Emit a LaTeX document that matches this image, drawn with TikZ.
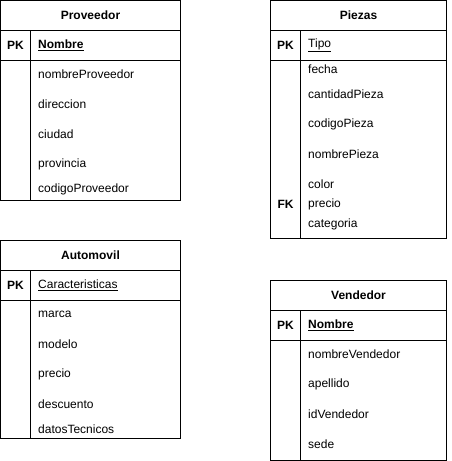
\documentclass[tikz,border=0pt]{standalone}
\usepackage{fontspec}
\setmainfont{Liberation Sans}
\begin{document}
\begin{tikzpicture}[x=1pt,y=-1pt,
  frame/.style={draw=black,line width=1pt},
  ttl/.style={font=\fontsize{12}{14}\selectfont\bfseries,inner sep=0pt},
  key/.style={font=\fontsize{12}{14}\selectfont\bfseries,inner sep=0pt},
  pk/.style={font=\fontsize{12}{14}\selectfont\bfseries,inner sep=0pt,anchor=west},
  pkr/.style={font=\fontsize{12}{14}\selectfont,inner sep=0pt,anchor=west},
  attr/.style={font=\fontsize{12}{14}\selectfont,inner sep=0pt,anchor=west}]
\useasboundingbox (0,0) rectangle (451,461);
% ---------- Proveedor ----------
\draw[frame] (0.5,0.5) rectangle (180.5,200.5);
\draw[frame] (0.5,30.5) -- (180.5,30.5);
\draw[frame] (0.5,60.5) -- (180.5,60.5);
\draw[frame] (30.5,30.5) -- (30.5,200.5);
\node[ttl] (p-t) at (90.5,15.5) {Proveedor};
\node[key] (p-pk) at (15.5,45.5) {PK};
\node[pk] (p-k) at (38,45.5) {\underline{Nombre}};
\node[attr] (p-1) at (38,74.5) {nombreProveedor};
\node[attr] (p-2) at (38,104.5) {direccion};
\node[attr] (p-3) at (38,134.5) {ciudad};
\node[attr] (p-4) at (38,164.5) {provincia};
\node[attr] (p-5) at (38,189.5) {codigoProveedor};
% ---------- Piezas ----------
\draw[frame] (270.5,0.5) rectangle (446.5,238.5);
\draw[frame] (270.5,30.5) -- (446.5,30.5);
\draw[frame] (270.5,60.5) -- (446.5,60.5);
\draw[frame] (300.5,30.5) -- (300.5,238.5);
\node[ttl] (z-t) at (358.5,15.5) {Piezas};
\node[key] (z-pk) at (285.5,45.5) {PK};
\node[pkr] (z-k) at (308,45.5) {\underline{Tipo}};
\node[attr] (z-1) at (308,69.5) {fecha};
\node[attr] (z-2) at (308,94.5) {cantidadPieza};
\node[attr] (z-3) at (308,124.5) {codigoPieza};
\node[attr] (z-4) at (308,154.5) {nombrePieza};
\node[attr] (z-5) at (308,184.5) {color};
\node[attr] (z-6) at (308,204.5) {precio};
\node[attr] (z-7) at (308,224.5) {categoria};
\node[key] (z-fk) at (285.5,204.5) {FK};
% ---------- Automovil ----------
\draw[frame] (0.5,240.5) rectangle (180.5,438.5);
\draw[frame] (0.5,270.5) -- (180.5,270.5);
\draw[frame] (0.5,300.5) -- (180.5,300.5);
\draw[frame] (30.5,270.5) -- (30.5,438.5);
\node[ttl] (a-t) at (90.5,255.5) {Automovil};
\node[key] (a-pk) at (15.5,285.5) {PK};
\node[pkr] (a-k) at (38,285.5) {\underline{Caracteristicas}};
\node[attr] (a-1) at (38,314.5) {marca};
\node[attr] (a-2) at (38,344.5) {modelo};
\node[attr] (a-3) at (38,374.5) {precio};
\node[attr] (a-4) at (38,404.5) {descuento};
\node[attr] (a-5) at (38,429.5) {datosTecnicos};
% ---------- Vendedor ----------
\draw[frame] (270.5,280.5) rectangle (446.5,460.5);
\draw[frame] (270.5,310.5) -- (446.5,310.5);
\draw[frame] (270.5,340.5) -- (446.5,340.5);
\draw[frame] (300.5,310.5) -- (300.5,460.5);
\node[ttl] (v-t) at (358.5,295.5) {Vendedor};
\node[key] (v-pk) at (285.5,325.5) {PK};
\node[pk] (v-k) at (308,325.5) {\underline{Nombre}};
\node[attr] (v-1) at (308,354.5) {nombreVendedor};
\node[attr] (v-2) at (308,384.5) {apellido};
\node[attr] (v-3) at (308,414.5) {idVendedor};
\node[attr] (v-4) at (308,444.5) {sede};
\end{tikzpicture}
\end{document}
